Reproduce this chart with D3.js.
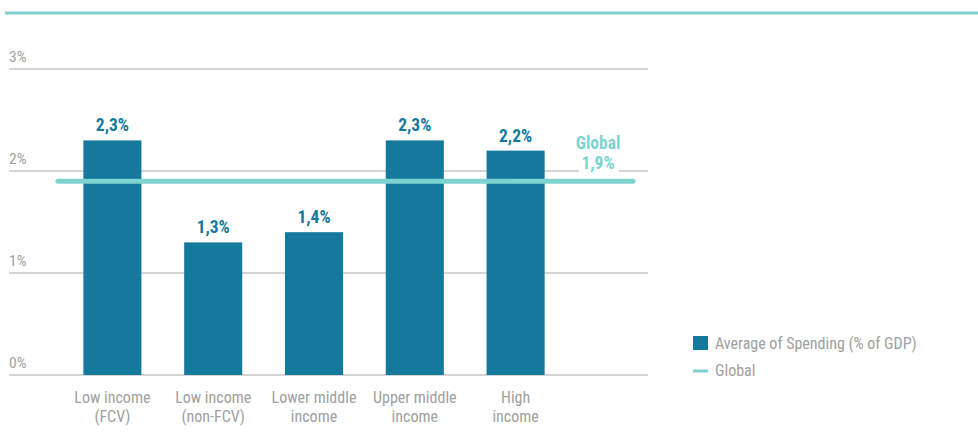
<!DOCTYPE html>
<html>
<head>
<meta charset="utf-8">
<script src="https://cdn.jsdelivr.net/npm/d3@7"></script>
<style>
  html, body { margin: 0; padding: 0; background: #fff; }
  svg { display: block; font-family: "Roboto Condensed", "Liberation Sans Narrow", Roboto, sans-serif; }
</style>
</head>
<body>
<svg id="chart" width="978" height="437"></svg>
<script>
// Spending by income group
const categories = [
  ["Low income", "(FCV)"],
  ["Low income", "(non-FCV)"],
  ["Lower middle", "income"],
  ["Upper middle", "income"],
  ["High", "income"]
];
const values = [2.3, 1.3, 1.4, 2.3, 2.2];
const valueLabels = ["2,3%", "1,3%", "1,4%", "2,3%", "2,2%"];
const globalValue = 1.9;
const globalLabel = ["Global", "1,9%"];
const yTicks = [0, 1, 2, 3];
const yTickLabels = ["0%", "1%", "2%", "3%"];
const legendItems = ["Average of Spending (% of GDP)", "Global"];

const barColor = "#14799c";
const globalColor = "#7fd3cf";
const gridColor = "#aaaaaa";
const textGray = "#a0a0a0";

const svg = d3.select("#chart");

// header rule
svg.append("line")
  .attr("x1", 5).attr("x2", 978).attr("y1", 13).attr("y2", 13)
  .attr("stroke", globalColor).attr("stroke-width", 3);

const x = d3.scaleBand()
  .domain(d3.range(categories.length))
  .range([62, 566])
  .paddingInner(0.424)
  .paddingOuter(0.212);

const y = d3.scaleLinear().domain([0, 3]).range([375, 69]);

// gridlines
const grid = svg.append("g");
grid.selectAll("line").data(yTicks).join("line")
  .attr("x1", 9).attr("x2", 648)
  .attr("y1", d => y(d)).attr("y2", d => y(d))
  .attr("stroke", gridColor).attr("stroke-width", 1);

grid.selectAll("text").data(yTicks).join("text")
  .attr("x", 9).attr("y", d => y(d) - 7)
  .attr("fill", textGray).attr("font-size", 15.5)
  .text((d, i) => yTickLabels[i]);

// bars
svg.append("g").selectAll("rect").data(values).join("rect")
  .attr("x", (d, i) => x(i)).attr("width", x.bandwidth())
  .attr("y", d => y(d)).attr("height", d => y(0) - y(d))
  .attr("fill", barColor);

// value labels
svg.append("g").selectAll("text").data(values).join("text")
  .attr("x", (d, i) => x(i) + x.bandwidth() / 2)
  .attr("y", d => y(d) - 9)
  .attr("text-anchor", "middle")
  .attr("fill", barColor).attr("font-size", 17.5).attr("font-weight", "bold")
  .text((d, i) => valueLabels[i]);

// category labels
const cat = svg.append("g").selectAll("text").data(categories).join("text")
  .attr("x", (d, i) => x(i) + x.bandwidth() / 2)
  .attr("y", 403)
  .attr("text-anchor", "middle")
  .attr("fill", textGray).attr("font-size", 16);
cat.selectAll("tspan").data(d => d).join("tspan")
  .attr("x", function () { return d3.select(this.parentNode).attr("x"); })
  .attr("dy", (d, i) => i === 0 ? 0 : 19)
  .text(d => d);

// global reference line
svg.append("line")
  .attr("x1", 58).attr("x2", 633)
  .attr("y1", y(globalValue)).attr("y2", y(globalValue))
  .attr("stroke", globalColor).attr("stroke-width", 5)
  .attr("stroke-linecap", "round");

// global label with a white backing over the gridline
const gx = 598;
svg.append("rect")
  .attr("x", gx - 19).attr("y", y(2) - 4).attr("width", 40).attr("height", 8)
  .attr("fill", "#fff");
svg.append("text")
  .attr("x", gx).attr("y", 149)
  .attr("text-anchor", "middle")
  .attr("fill", globalColor).attr("font-size", 17.5).attr("font-weight", "bold")
  .selectAll("tspan").data(globalLabel).join("tspan")
  .attr("x", gx).attr("dy", (d, i) => i === 0 ? 0 : 20)
  .text(d => d);

// legend
const lg = svg.append("g");
lg.append("rect").attr("x", 693).attr("y", 336).attr("width", 15).attr("height", 14).attr("fill", barColor);
lg.append("text").attr("x", 715).attr("y", 349).attr("fill", textGray).attr("font-size", 16).text(legendItems[0]);
lg.append("line").attr("x1", 693).attr("x2", 708).attr("y1", 371).attr("y2", 371)
  .attr("stroke", globalColor).attr("stroke-width", 3);
lg.append("text").attr("x", 715).attr("y", 376).attr("fill", textGray).attr("font-size", 16).text(legendItems[1]);
</script>
</body>
</html>
